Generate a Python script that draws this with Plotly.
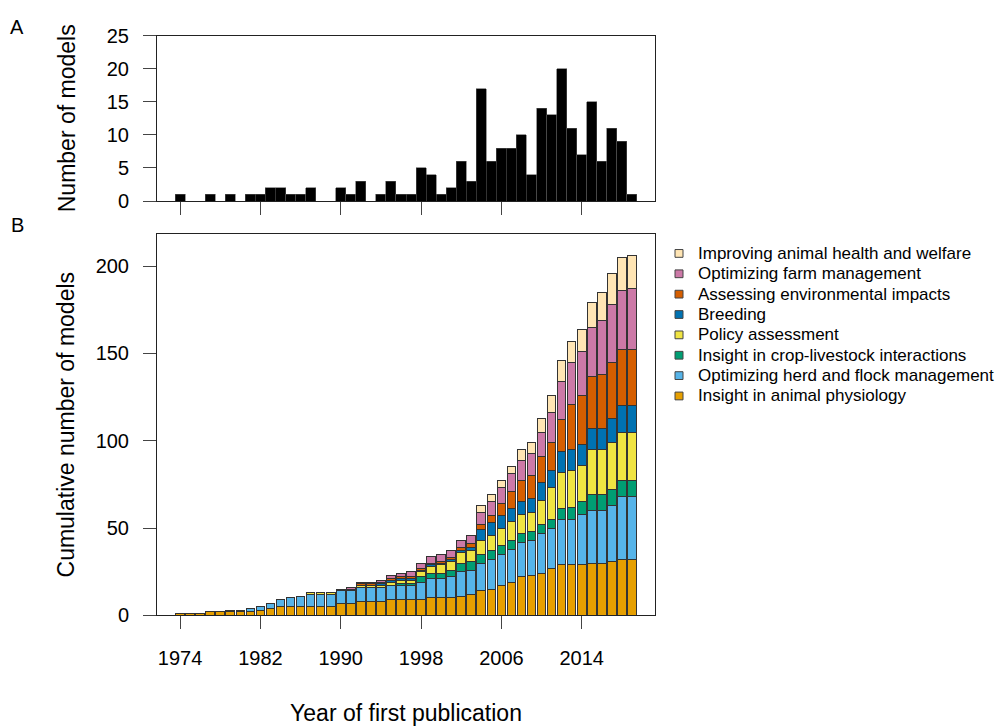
import plotly.graph_objects as go

# Years of first publication
years = list(range(1974, 2020))

# Panel A: number of new models per year
new_models = [1, 0, 0, 1, 0, 1, 0, 1, 1, 2,
              2, 1, 1, 2, 0, 0, 2, 1, 3, 0,
              1, 3, 1, 1, 5, 4, 1, 2, 6, 3,
              17, 6, 8, 8, 10, 4, 14, 13, 20, 11,
              7, 15, 6, 11, 9, 1]

# Panel B: cumulative number of models per modelling objective
physiology = [1, 1, 1, 2, 2, 2, 2, 2, 3, 4,
              5, 5, 5, 5, 5, 5, 7, 7, 8, 8,
              8, 9, 9, 9, 9, 10, 10, 10, 11, 12,
              14, 15, 17, 19, 22, 23, 24, 27, 29, 29,
              29, 30, 30, 31, 32, 32]
herd_flock = [0, 0, 0, 0, 0, 1, 1, 2, 2, 3,
              4, 5, 6, 7, 7, 7, 7, 7, 8, 8,
              8, 8, 8, 8, 10, 11, 11, 12, 14, 14,
              16, 17, 18, 19, 20, 20, 23, 23, 26, 26,
              29, 30, 30, 32, 36, 36]
crop_livestock = [0, 0, 0, 0, 0, 0, 0, 0, 0, 0,
                  0, 0, 0, 0, 0, 0, 0, 0, 0, 0,
                  0, 0, 1, 1, 3, 3, 3, 4, 5, 5,
                  5, 5, 5, 5, 5, 5, 5, 5, 6, 7,
                  7, 9, 9, 9, 9, 9]
policy = [0, 0, 0, 0, 0, 0, 0, 0, 0, 0,
          0, 0, 0, 1, 1, 1, 1, 1, 1, 1,
          1, 2, 2, 2, 3, 4, 5, 5, 6, 6,
          8, 9, 10, 11, 11, 11, 14, 18, 21, 21,
          21, 26, 26, 27, 28, 28]
breeding = [0, 0, 0, 0, 0, 0, 0, 0, 0, 0,
            0, 0, 0, 0, 0, 0, 0, 0, 0, 0,
            1, 1, 1, 1, 1, 1, 1, 1, 1, 2,
            6, 7, 7, 7, 7, 8, 10, 10, 12, 12,
            12, 12, 12, 14, 15, 15]
environment = [0, 0, 0, 0, 0, 0, 0, 0, 0, 0,
               0, 0, 0, 0, 0, 0, 0, 0, 1, 1,
               1, 1, 1, 1, 1, 1, 1, 1, 2, 2,
               3, 4, 7, 10, 12, 13, 15, 16, 18, 26,
               28, 30, 31, 32, 32, 32]
farm_mgmt = [0, 0, 0, 0, 0, 0, 0, 0, 0, 0,
             0, 0, 0, 0, 0, 0, 0, 1, 1, 1,
             1, 2, 2, 3, 3, 4, 4, 4, 4, 5,
             7, 8, 9, 10, 12, 13, 14, 17, 22, 24,
             25, 28, 31, 33, 34, 35]
health_welfare = [0, 0, 0, 0, 0, 0, 0, 0, 0, 0,
                  0, 0, 0, 0, 0, 0, 0, 0, 0, 0,
                  0, 0, 0, 0, 0, 0, 0, 0, 0, 0,
                  4, 4, 4, 4, 6, 6, 8, 10, 12, 12,
                  13, 14, 16, 18, 19, 19]

# Stack order, bottom to top
categories = [
    ("Insight in animal physiology", physiology, "#E69F00"),
    ("Optimizing herd and flock management", herd_flock, "#56B4E9"),
    ("Insight in crop-livestock interactions", crop_livestock, "#009E73"),
    ("Policy assessment", policy, "#F0E442"),
    ("Breeding", breeding, "#0072B2"),
    ("Assessing environmental impacts", environment, "#D55E00"),
    ("Optimizing farm management", farm_mgmt, "#CC79A7"),
    ("Improving animal health and welfare", health_welfare, "#FFE5B4"),
]

tick_years = [1974, 1982, 1990, 1998, 2006, 2014]

W, H = 997, 726
FONT = "Liberation Sans, Arial, sans-serif"


def px_x(x):
    return x / W


def px_y(y):
    return 1 - y / H


fig = go.Figure()

for name, vals, color in categories:
    fig.add_trace(go.Bar(
        x=years, y=vals, name=name, width=0.86, showlegend=False,
        marker=dict(color=color, line=dict(color="#333333", width=1)),
        xaxis="x", yaxis="y",
    ))

fig.add_trace(go.Bar(
    x=years, y=new_models, width=1.0, showlegend=False,
    marker=dict(color="black", line=dict(color="#555555", width=0.6)),
    xaxis="x2", yaxis="y2",
))

x_dom = [px_x(157), px_x(655)]
x_range = [1971.7, 2021.3]

common_axis = dict(
    showline=True, mirror=True, linecolor="#222222", linewidth=1,
    showgrid=False, zeroline=False,
    ticks="outside", ticklen=13, tickwidth=1, tickcolor="#444444",
    tickfont=dict(size=20, color="black", family=FONT),
)

# Legend drawn as key squares and labels, top entry first
shapes = []
annotations = []
for i, (name, _, color) in enumerate(reversed(categories)):
    yc = 250 + i * 21
    shapes.append(dict(
        type="rect", xref="paper", yref="paper",
        x0=px_x(675), x1=px_x(683), y0=px_y(yc + 4), y1=px_y(yc - 4),
        fillcolor=color, line=dict(color="#444444", width=1),
    ))
    annotations.append(dict(
        text=name, x=px_x(696), y=px_y(yc), xref="paper", yref="paper",
        showarrow=False, xanchor="left", yanchor="middle",
        font=dict(size=17, color="black", family=FONT),
    ))

annotations += [
    dict(text="A", x=px_x(17), y=px_y(17), xref="paper", yref="paper",
         showarrow=False, font=dict(size=20), xanchor="center", yanchor="middle"),
    dict(text="B", x=px_x(17), y=px_y(221), xref="paper", yref="paper",
         showarrow=False, font=dict(size=20), xanchor="center", yanchor="middle"),
]

fig.update_layout(
    width=W, height=H,
    margin=dict(l=0, r=0, t=0, b=0),
    paper_bgcolor="white", plot_bgcolor="white",
    barmode="stack",
    showlegend=False,
    font=dict(family=FONT, color="black"),
    xaxis=dict(
        domain=x_dom, range=x_range, anchor="y",
        tickmode="array", tickvals=tick_years,
        ticklabelstandoff=12,
        title=dict(text="Year of first publication", font=dict(size=23), standoff=38),
        **common_axis,
    ),
    yaxis=dict(
        domain=[px_y(623.3), px_y(230)], range=[0, 218.4], anchor="x",
        tickmode="array", tickvals=[0, 50, 100, 150, 200],
        ticklabelstandoff=10,
        title=dict(text="Cumulative number of models", font=dict(size=23), standoff=14),
        **common_axis,
    ),
    xaxis2=dict(
        domain=x_dom, range=x_range, anchor="y2",
        tickmode="array", tickvals=tick_years, showticklabels=False,
        **common_axis,
    ),
    yaxis2=dict(
        domain=[px_y(196), px_y(25.3)], range=[0, 25], anchor="x2",
        tickmode="array", tickvals=[0, 5, 10, 15, 20, 25],
        ticklabelstandoff=10,
        title=dict(text="Number of models", font=dict(size=23), standoff=24),
        **common_axis,
    ),
    shapes=shapes,
    annotations=annotations,
)

fig.write_html("out.html")
